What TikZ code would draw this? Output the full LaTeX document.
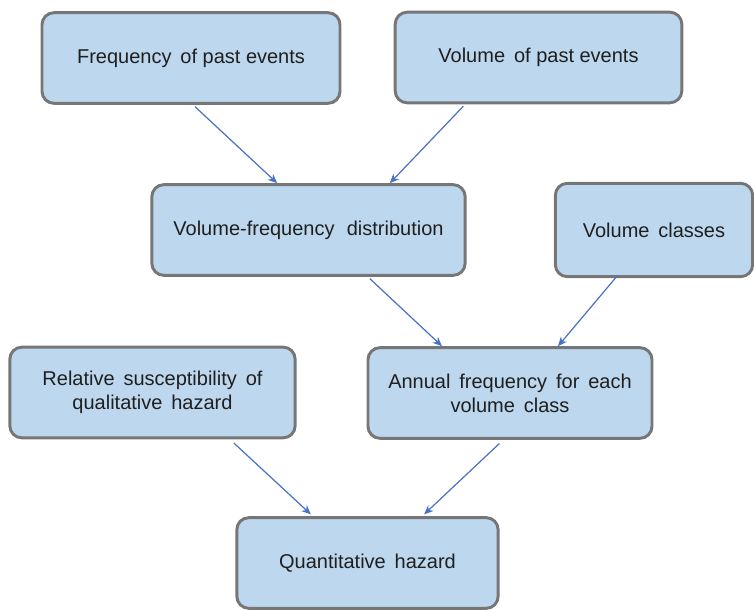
\documentclass[tikz,border=0pt]{standalone}
\usepackage{fontspec}
\setmainfont{Liberation Sans}
\usepackage{xcolor}
\usetikzlibrary{arrows.meta}
\definecolor{boxfill}{RGB}{189,215,238}
\definecolor{boxline}{RGB}{118,118,118}
\definecolor{arrowblue}{RGB}{72,114,196}

\begin{document}
\begin{tikzpicture}[x=0.75pt,y=-0.75pt,>={Stealth[length=7pt,width=6pt]},
  blk/.style={draw=boxline,line width=2.2pt,rounded corners=9pt,fill=boxfill,align=center,minimum height=68pt,
    font=\fontsize{15}{18}\selectfont,text=black!88},
  arr/.style={->,draw=arrowblue,fill=arrowblue,line width=0.9pt,shorten <=2pt}]
\useasboundingbox (0,0) rectangle (754,610);
\node[blk,minimum width=223.5pt] (freq) at (191,58) {Frequency\, of past events};
\node[blk,minimum width=215pt] (vol) at (538.5,57.5) {Volume\, of past events};
\node[blk,minimum width=235pt] (vfd) at (308.5,230) {Volume-frequency\,\, distribution};
\node[blk,minimum width=148pt,minimum height=70pt] (vcl) at (654,230) {Volume\, classes};
\node[blk,minimum width=214pt] (rel) at (152.5,392.5) {Relative\, susceptibility\, of\\qualitative\, hazard};
\node[blk,minimum width=213pt] (ann) at (510,393) {Annual\, frequency\, for\, each\\volume\, class};
\node[blk,minimum width=196pt] (qh) at (367.5,563) {Quantitative\, hazard};
\draw[arr] ([xshift=1.5pt]freq.south)--([xshift=-23.5pt]vfd.north);
\draw[arr] ([xshift=-55pt]vol.south)--([xshift=61pt]vfd.north);
\draw[arr] ([xshift=44.5pt]vfd.south)--([xshift=-51pt]ann.north);
\draw[arr,shorten <=-2pt] ([xshift=-29pt]vcl.south)--([xshift=36pt]ann.north);
\draw[arr,shorten <=4pt,shorten >=2pt] ([xshift=58pt]rel.south)--([xshift=-41pt]qh.north);
\draw[arr,shorten <=4pt,shorten >=2pt] ([xshift=-5pt]ann.south)--([xshift=41pt]qh.north);
\end{tikzpicture}
\end{document}
